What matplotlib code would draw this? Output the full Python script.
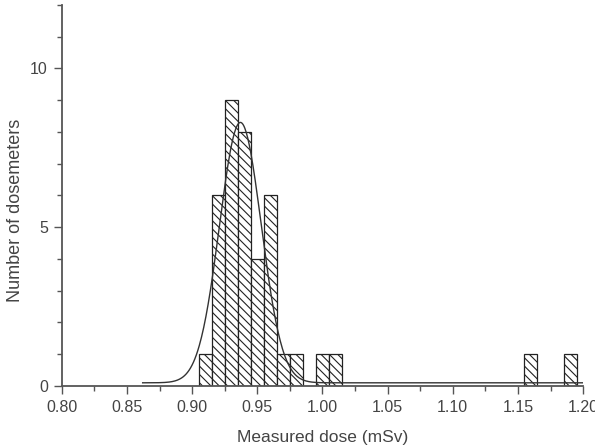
import numpy as np
import matplotlib
matplotlib.use("Agg")
import matplotlib.pyplot as plt
from matplotlib.ticker import MultipleLocator, FormatStrFormatter

plt.rcParams['font.family'] = ['Liberation Sans', 'DejaVu Sans']
plt.rcParams['hatch.linewidth'] = 0.8
plt.rcParams['hatch.color'] = '#333333'

# Histogram bins (left edges, mSv) and counts
bin_left = [0.905, 0.915, 0.925, 0.935, 0.945, 0.955, 0.965, 0.975,
            0.995, 1.005, 1.155, 1.185]
counts = [1, 6, 9, 8, 4, 6, 1, 1, 1, 1, 1, 1]
bin_width = 0.01

# Gaussian fit parameters
fit_xc = 0.937
fit_amp = 8.2
fit_sigma = 0.016
fit_y0 = 0.1
fit_range = (0.862, 1.20)

fig = plt.figure(figsize=(5.95, 4.47), dpi=100)
ax = fig.add_axes([0.104, 0.1365, 0.876, 0.8525])

ax.bar(bin_left, counts, width=bin_width, align='edge', color='white',
       edgecolor='#222222', linewidth=0.9, hatch='\\\\\\\\')

xs = np.linspace(fit_range[0], fit_range[1], 600)
ys = fit_y0 + fit_amp * np.exp(-(xs - fit_xc) ** 2 / (2 * fit_sigma ** 2))
ax.plot(xs, ys, color='#333333', linewidth=1.0)

ax.set_xlim(0.80, 1.20)
ax.set_ylim(0, 12)
ax.xaxis.set_major_locator(MultipleLocator(0.05))
ax.xaxis.set_minor_locator(MultipleLocator(0.025))
ax.yaxis.set_major_locator(MultipleLocator(5))
ax.yaxis.set_minor_locator(MultipleLocator(1))
ax.xaxis.set_major_formatter(FormatStrFormatter('%.2f'))

for s in ['top', 'right']:
    ax.spines[s].set_visible(False)
for s in ['left', 'bottom']:
    ax.spines[s].set_color('#555555')
    ax.spines[s].set_linewidth(1.3)

ax.tick_params(axis='both', which='major', direction='out', length=6,
               width=1.0, color='#555555', labelsize=11.5, labelcolor='#444444',
               pad=4)
ax.tick_params(axis='both', which='minor', direction='out', length=3.5,
               width=1.0, color='#555555')

ax.set_xlabel('Measured dose (mSv)', fontsize=12.5, color='#444444')
ax.set_ylabel('Number of dosemeters', fontsize=13, color='#444444')
ax.xaxis.set_label_coords(0.5, -0.115)
ax.yaxis.set_label_coords(-0.073, 0.462)

fig.savefig('out.png', dpi=100)
